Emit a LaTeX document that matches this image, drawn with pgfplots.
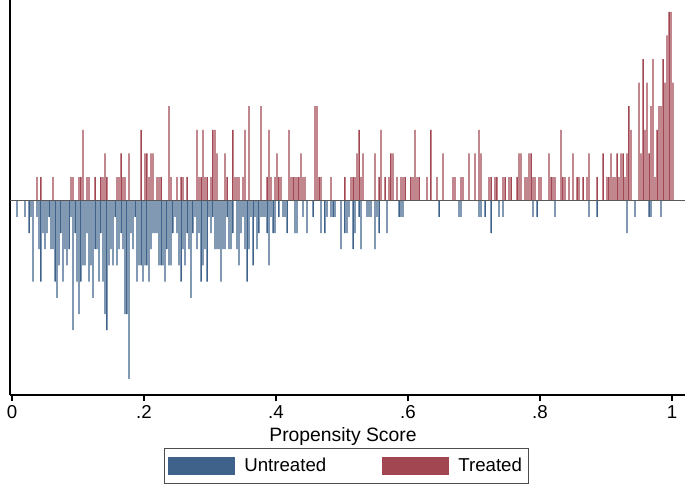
\documentclass[border=0pt]{standalone}
\usepackage{pgfplots}
\pgfplotsset{compat=1.18}
\usepackage{pgfplotstable}
\usepackage{fontspec}
\setmainfont{Liberation Sans}
\definecolor{untreated}{RGB}{62,98,138}
\definecolor{treated}{RGB}{162,70,82}

% Treated: propensity-score bin centre, count
\pgfplotstableread{
x y
0.0379 1
0.0439 1
0.0621 1
0.0894 1
0.0924 1
0.1015 1
0.1045 1
0.1076 3
0.1136 1
0.1167 1
0.1258 1
0.1348 1
0.1379 1
0.1409 2
0.1439 1
0.1591 1
0.1621 1
0.1652 2
0.1682 1
0.1712 1
0.1773 2
0.1955 3
0.2015 2
0.2045 2
0.2076 1
0.2106 2
0.2136 2
0.2197 1
0.2227 1
0.2258 1
0.2379 4
0.2409 1
0.2500 1
0.2561 1
0.2591 1
0.2652 1
0.2803 3
0.2833 1
0.2864 1
0.2894 3
0.2924 1
0.2955 1
0.3015 1
0.3045 3
0.3076 3
0.3106 2
0.3227 2
0.3258 1
0.3348 3
0.3379 1
0.3409 1
0.3439 1
0.3500 1
0.3530 3
0.3591 4
0.3773 4
0.3864 1
0.3894 3
0.3924 1
0.3985 1
0.4015 2
0.4045 1
0.4076 1
0.4197 3
0.4227 1
0.4258 1
0.4288 1
0.4318 1
0.4348 1
0.4379 2
0.4409 1
0.4439 1
0.4591 4
0.4621 4
0.4652 1
0.4682 1
0.4833 1
0.5045 1
0.5136 1
0.5167 1
0.5197 1
0.5227 2
0.5258 3
0.5288 1
0.5318 2
0.5500 2
0.5561 1
0.5591 3
0.5652 1
0.5712 1
0.5742 2
0.5773 2
0.5833 1
0.5894 1
0.5924 1
0.5955 1
0.6045 1
0.6076 1
0.6106 3
0.6136 1
0.6167 1
0.6288 1
0.6348 3
0.6439 1
0.6530 2
0.6682 1
0.6712 1
0.6803 1
0.6833 1
0.6924 2
0.7015 2
0.7076 3
0.7106 2
0.7227 1
0.7258 1
0.7318 1
0.7348 1
0.7439 1
0.7470 1
0.7530 1
0.7561 1
0.7652 1
0.7682 2
0.7712 2
0.7773 1
0.7803 1
0.7833 2
0.7864 2
0.7894 1
0.7924 1
0.7985 1
0.8015 1
0.8136 2
0.8167 1
0.8197 1
0.8227 1
0.8318 3
0.8348 1
0.8379 1
0.8439 1
0.8500 2
0.8561 1
0.8591 1
0.8652 1
0.8712 1
0.8742 2
0.8864 1
0.8955 2
0.9015 1
0.9045 1
0.9076 2
0.9106 1
0.9136 1
0.9167 2
0.9197 1
0.9227 2
0.9258 2
0.9288 1
0.9318 2
0.9348 4
0.9379 3
0.9500 5
0.9530 2
0.9561 6
0.9591 3
0.9621 5
0.9652 2
0.9682 4
0.9712 6
0.9742 1
0.9773 3
0.9803 4
0.9833 4
0.9864 6
0.9894 5
0.9924 7
0.9955 8
0.9985 8
1.0015 5
}\treatedtab

% Untreated: propensity-score bin centre, count (drawn downwards)
\pgfplotstableread{
x y
0.0076 -1
0.0197 -1
0.0258 -2
0.0288 -1
0.0318 -5
0.0379 -1
0.0409 -3
0.0439 -5
0.0470 -2
0.0500 -3
0.0530 -2
0.0561 -1
0.0591 -3
0.0621 -3
0.0652 -5
0.0682 -6
0.0712 -4
0.0742 -2
0.0773 -5
0.0803 -3
0.0833 -4
0.0864 -3
0.0894 -1
0.0924 -8
0.0955 -2
0.0985 -5
0.1015 -7
0.1045 -5
0.1076 -4
0.1106 -4
0.1136 -2
0.1167 -5
0.1197 -4
0.1227 -6
0.1258 -3
0.1288 -3
0.1318 -5
0.1348 -2
0.1379 -5
0.1409 -7
0.1439 -8
0.1470 -4
0.1500 -3
0.1530 -4
0.1561 -1
0.1591 -4
0.1621 -3
0.1652 -2
0.1682 -3
0.1712 -7
0.1742 -7
0.1773 -11
0.1803 -2
0.1833 -3
0.1864 -1
0.1894 -5
0.1924 -4
0.1955 -4
0.1985 -5
0.2015 -4
0.2045 -4
0.2076 -5
0.2106 -3
0.2136 -2
0.2167 -2
0.2197 -2
0.2227 -4
0.2258 -4
0.2288 -4
0.2318 -5
0.2348 -3
0.2379 -4
0.2409 -4
0.2439 -2
0.2470 -1
0.2500 -2
0.2530 -4
0.2561 -5
0.2591 -3
0.2621 -4
0.2652 -2
0.2682 -3
0.2712 -6
0.2742 -2
0.2773 -1
0.2803 -3
0.2833 -2
0.2864 -5
0.2894 -4
0.2924 -3
0.2955 -5
0.2985 -1
0.3015 -2
0.3045 -1
0.3076 -3
0.3106 -3
0.3136 -3
0.3167 -5
0.3197 -3
0.3227 -3
0.3258 -1
0.3288 -3
0.3318 -3
0.3348 -2
0.3409 -3
0.3439 -4
0.3470 -2
0.3500 -1
0.3530 -3
0.3561 -5
0.3591 -3
0.3621 -1
0.3652 -4
0.3682 -1
0.3712 -3
0.3742 -2
0.3773 -1
0.3803 -1
0.3833 -1
0.3864 -2
0.3894 -4
0.3924 -1
0.3955 -2
0.3985 -2
0.4045 -1
0.4106 -1
0.4136 -1
0.4167 -2
0.4288 -2
0.4318 -2
0.4409 -1
0.4470 -2
0.4561 -1
0.4682 -2
0.4742 -2
0.4773 -1
0.4833 -1
0.4864 -1
0.4894 -1
0.4985 -3
0.5045 -2
0.5076 -2
0.5106 -1
0.5167 -3
0.5197 -2
0.5258 -1
0.5288 -3
0.5379 -1
0.5409 -1
0.5439 -1
0.5500 -3
0.5530 -1
0.5561 -2
0.5682 -2
0.5864 -1
0.5894 -1
0.5924 -1
0.6470 -1
0.6773 -1
0.6803 -1
0.7076 -1
0.7106 -1
0.7167 -1
0.7258 -2
0.7379 -1
0.7439 -1
0.7894 -1
0.7955 -1
0.8227 -1
0.8742 -1
0.8864 -1
0.9318 -2
0.9439 -1
0.9652 -1
0.9682 -1
0.9833 -1
}\untreatedtab

\begin{document}
\begin{tikzpicture}
\useasboundingbox (0,0) rectangle (513.75pt,-363.75pt);
% untreated axis (with the visible axis lines)
\begin{axis}[
  at={(7.5pt,-296.25pt)}, anchor=south west,
  scale only axis, width=506.25pt, height=296.25pt,
  xmin=-0.00303, xmax=1.0197, ymin=-12.0, ymax=12.39,
  axis lines*=left,
  axis line style={black, line width=0.8pt},
  ytick=\empty,
  xtick={0,0.2,0.4,0.6,0.8,1},
  xticklabels={0,.2,.4,.6,.8,1},
  tick align=outside,
  major tick length=4.5pt,
  tick style={black, line width=0.8pt},
  ticklabel style={font=\fontsize{14}{16}\selectfont},
  /pgf/number format/assume math mode=true,
  xlabel={Propensity Score},
  xlabel style={font=\fontsize{14.5}{16}\selectfont, at={(axis description cs:0.4933,-0.1063)}, anchor=center},
  clip=false,
]
\addplot[ybar, bar width=0.0022, fill=untreated, draw=none] table {\untreatedtab};
\end{axis}
% treated axis (own vertical scale), zero line and legend
\begin{axis}[
  at={(7.5pt,-296.25pt)}, anchor=south west,
  scale only axis, width=506.25pt, height=296.25pt,
  xmin=-0.00303, xmax=1.0197, ymin=-8.23, ymax=8.50,
  hide axis, clip=false,
  legend columns=2,
  legend image code/.code={\fill[#1] (0pt,-6.75pt) rectangle (50pt,6.75pt);},
  legend style={at={(axis description cs:0.4985,-0.1797)}, anchor=center,
    draw=gray!60!black, line width=0.6pt, fill=white,
    font=\fontsize{14}{16}\selectfont,
    inner xsep=3pt, inner ysep=5pt,
    /tikz/every odd column/.append style={column sep=5pt},
    /tikz/every even column/.append style={column sep=40pt}},
]
\addplot[ybar, bar width=0.0022, fill=treated, draw=none, forget plot] table {\treatedtab};
\addplot[gray!70!black, line width=1pt, forget plot] coordinates {(-0.00303,0) (1.0197,0)};
\addlegendimage{fill=untreated, draw=none}
\addlegendentry{Untreated}
\addlegendimage{fill=treated, draw=none}
\addlegendentry{Treated}
\end{axis}
\end{tikzpicture}
\end{document}
